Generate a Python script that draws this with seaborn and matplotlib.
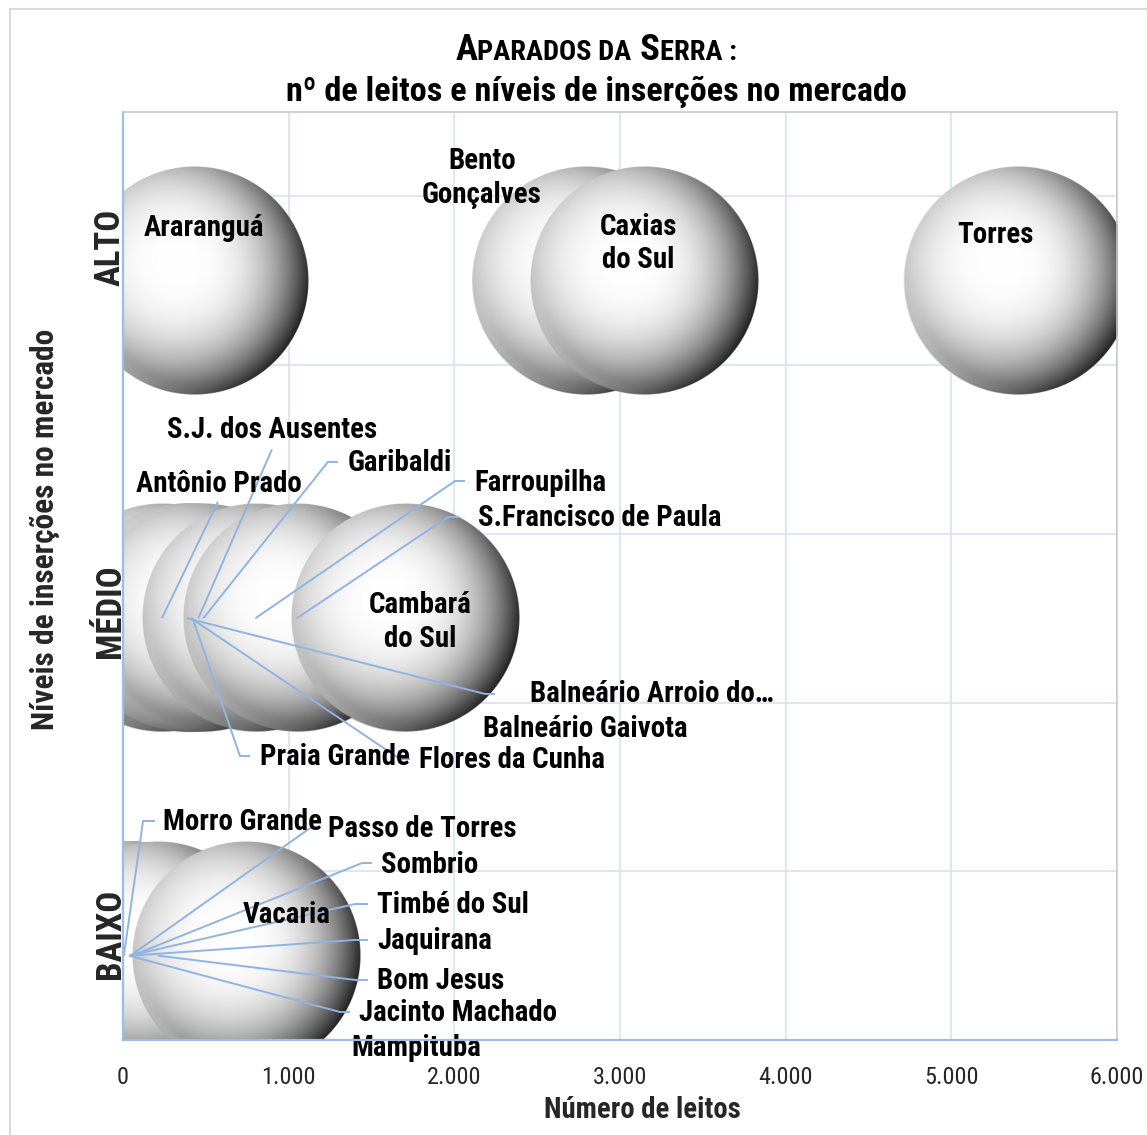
import numpy as np
import pandas as pd
import matplotlib
matplotlib.use("Agg")
import matplotlib.pyplot as plt
import seaborn as sns
from matplotlib import font_manager as fm
from matplotlib.offsetbox import TextArea, HPacker, DrawingArea, AnnotationBbox
from matplotlib.patches import Rectangle

# ---------------------------------------------------------------- data
niveis = ["BAIXO", "MÉDIO", "ALTO"]

alto_cidades = ["Araranguá", "Bento Gonçalves", "Caxias do Sul", "Torres"]
alto_leitos = [430, 2795, 3145, 5400]

medio_cidades = ["Antônio Prado", "S.J. dos Ausentes", "Garibaldi", "Farroupilha",
                 "S.Francisco de Paula", "Cambará do Sul", "Balneário Arroio do Silva",
                 "Balneário Gaivota", "Praia Grande", "Flores da Cunha"]
medio_leitos = [235, 455, 485, 800, 1050, 1700, 385, 380, 420, 410]

baixo_cidades = ["Morro Grande", "Passo de Torres", "Sombrio", "Vacaria", "Timbé do Sul",
                 "Jaquirana", "Bom Jesus", "Jacinto Machado", "Mampituba"]
baixo_leitos = [5, 45, 55, 745, 40, 50, 210, 35, 30]

x_ticks = [0, 1000, 2000, 3000, 4000, 5000, 6000]
x_tick_labels = ["0", "1.000", "2.000", "3.000", "4.000", "5.000", "6.000"]

# vertical slot of each market level on the y scale
nivel_pos = {"BAIXO": 0.5, "MÉDIO": 2.5, "ALTO": 4.5}

df = pd.concat([
    pd.DataFrame({"cidade": alto_cidades, "leitos": alto_leitos, "nivel": "ALTO"}),
    pd.DataFrame({"cidade": medio_cidades, "leitos": medio_leitos, "nivel": "MÉDIO"}),
    pd.DataFrame({"cidade": baixo_cidades, "leitos": baixo_leitos, "nivel": "BAIXO"}),
], ignore_index=True)
df["y"] = df["nivel"].map(nivel_pos)

# ---------------------------------------------------------------- style
sns.set_style("white")


def pick_narrow_font():
    entries = fm.fontManager.ttflist
    names = {f.name for f in entries}
    for nm in ["Liberation Sans Narrow", "Arial Narrow", "Roboto Condensed",
               "Noto Sans Condensed", "Open Sans Condensed", "Noto Sans SemiCondensed",
               "Open Sans SemiCondensed"]:
        if nm in names:
            return nm, "normal"
    for fam in ["Roboto", "Noto Sans", "Open Sans", "Liberation Sans", "DejaVu Sans"]:
        for f in entries:
            if f.name == fam and f.stretch in ("condensed", "semi-condensed", "extra-condensed"):
                return fam, f.stretch
    if "DejaVu Sans Condensed" in names:
        return "DejaVu Sans Condensed", "normal"
    return "Liberation Sans", "normal"


NARROW, STRETCH = pick_narrow_font()
plt.rcParams["font.family"] = [NARROW, "DejaVu Sans"]
plt.rcParams["font.stretch"] = STRETCH

GRID = "#d3e0f2"
AXIS_BLUE = "#9dbde8"
LEADER = "#8fb4e3"

W, H, DPI = 1147, 1135, 100
XMAX, YMAX = 6000, 5.5
BUBBLE_S = 26950          # marker area in pt^2
LABEL_SIZE = 20.8

fig = plt.figure(figsize=(W / DPI, H / DPI), dpi=DPI)
ax = fig.add_axes([123 / W, 1 - 1040 / H, 994 / W, 928 / H])
ax.set_xlim(0, XMAX)
ax.set_ylim(0, YMAX)
ax.set_autoscale_on(False)

# base bubbles
sns.scatterplot(data=df, x="leitos", y="y", s=BUBBLE_S, color="#e2e2e2",
                edgecolor="none", legend=False, ax=ax, zorder=1)


# shaded sphere texture laid over every bubble
def sphere_texture(n=400):
    u = np.linspace(-1, 1, n)
    X, Y = np.meshgrid(u, -u)
    r = np.hypot(X, Y)
    fx, fy = -0.12, 0.16
    dx, dy = X - fx, Y - fy
    dist = np.hypot(dx, dy) + 1e-9
    ux, uy = dx / dist, dy / dist
    b = fx * ux + fy * uy
    L = -b + np.sqrt(b * b - (fx * fx + fy * fy) + 1)
    s = np.clip(dist / L, 0, 1)
    theta = np.arctan2(dy, dx)
    w = 0.22 + 0.78 * ((1 + np.cos(theta - np.deg2rad(-32))) / 2) ** 1.3
    val = 1 - 0.88 * (s ** 2.8) * w
    rim = np.exp(-((1 - r) / 0.07) ** 2) * np.clip(-Y, 0, None) * np.clip(0.3 - X, 0, 1)
    val = np.clip(val + 0.18 * rim, 0, 1)
    alpha = np.clip((1 - r) * n / 2, 0, 1)
    return np.dstack([val, val, val, alpha])


tex = sphere_texture()
r_px = np.sqrt(BUBBLE_S) / 2 * DPI / 72
rx = r_px * XMAX / 994
ry = r_px * YMAX / 928

z = 2.0
for nivel in niveis:
    sub = df[df["nivel"] == nivel].sort_values("leitos")
    for _, row in sub.iterrows():
        ax.imshow(tex, extent=(row.leitos - rx, row.leitos + rx, row.y - ry, row.y + ry),
                  aspect="auto", interpolation="antialiased", zorder=z)
        z += 0.01

ax.set_xlim(0, XMAX)
ax.set_ylim(0, YMAX)

# ---------------------------------------------------------------- labels
# (text x, text y, ha, leader knee points from the label towards its bubble)
rotulos = {
    "Araranguá": (489, 4.81, "center", None),
    "Bento Gonçalves": (2167, 5.11, "center", None),
    "Caxias do Sul": (3109, 4.72, "center", None),
    "Torres": (5264, 4.77, "center", None),
    "Antônio Prado": (78, 3.295, "left", [(573, 3.19)]),
    "S.J. dos Ausentes": (266, 3.615, "left", [(899, 3.50)]),
    "Garibaldi": (1358, 3.42, "left", [(1298, 3.426), (1237, 3.426)]),
    "Farroupilha": (2119, 3.30, "left", [(2064, 3.313), (2004, 3.313)]),
    "S.Francisco de Paula": (2143, 3.094, "left", [(2028, 3.10), (1962, 3.10)]),
    "Cambará do Sul": (1793, 2.477, "center", None),
    "Balneário Arroio do Silva": (2457, 2.051, "left", [(2245, 2.051), (2185, 2.051)]),
    "Balneário Gaivota": (2173, 1.843, "left", None),
    "Praia Grande": (827, 1.677, "left", [(767, 1.683), (706, 1.683)]),
    "Flores da Cunha": (1787, 1.659, "left", [(1732, 1.665), (1672, 1.665)]),
    "Morro Grande": (241, 1.292, "left", [(193, 1.298), (121, 1.298)]),
    "Passo de Torres": (1237, 1.251, "left", [(1189, 1.256), (1129, 1.256)]),
    "Sombrio": (1557, 1.037, "left", [(1503, 1.049), (1443, 1.049)]),
    "Vacaria": (990, 0.741, "center", None),
    "Timbé do Sul": (1533, 0.80, "left", [(1479, 0.806), (1400, 0.806)]),
    "Jaquirana": (1533, 0.587, "left", [(1479, 0.593), (1400, 0.593)]),
    "Bom Jesus": (1533, 0.35, "left", [(1479, 0.356), (1400, 0.356)]),
    "Jacinto Machado": (1425, 0.16, "left", [(1370, 0.166), (1310, 0.166)]),
    "Mampituba": (1376, -0.047, "left", None),
}
texto_rotulo = {
    "Bento Gonçalves": "Bento\nGonçalves",
    "Caxias do Sul": "Caxias\ndo Sul",
    "Cambará do Sul": "Cambará\ndo Sul",
    "Balneário Arroio do Silva": "Balneário Arroio do…",
}

for _, row in df.iterrows():
    lx, ly, ha, knees = rotulos[row.cidade]
    if knees:
        xs = [row.leitos] + [k[0] for k in knees[::-1]]
        ys = [row.y] + [k[1] for k in knees[::-1]]
        ax.plot(xs, ys, color=LEADER, lw=1.4, zorder=10, solid_capstyle="butt")
    ax.text(lx, ly, texto_rotulo.get(row.cidade, row.cidade), ha=ha, va="center",
            fontsize=LABEL_SIZE, fontweight="bold", color="black", zorder=11,
            linespacing=1.26, clip_on=False)

# ---------------------------------------------------------------- axes
ax.set_xticks(x_ticks)
ax.set_xticklabels(x_tick_labels, fontsize=17.5)
ax.set_yticks([1, 2, 3, 4, 5])
ax.set_yticklabels([])
ax.tick_params(axis="both", length=0)
ax.tick_params(axis="x", pad=19)
ax.grid(True, color=GRID, lw=1.1, zorder=0)
ax.set_axisbelow(True)
ax.set_xlabel("")
ax.set_ylabel("")
for side in ("left", "bottom"):
    ax.spines[side].set_color(AXIS_BLUE)
    ax.spines[side].set_linewidth(1.6)
for side in ("top", "right"):
    ax.spines[side].set_color("#c9c9c9")
    ax.spines[side].set_linewidth(1.2)
for sp in ax.spines.values():
    sp.set_zorder(12)

# level names beside the y axis
nivel_texto_y = {"ALTO": 4.70, "MÉDIO": 2.54, "BAIXO": 0.63}
for nivel in niveis:
    ax.text(-0.013, nivel_texto_y[nivel], nivel, transform=ax.get_yaxis_transform(),
            rotation=90, ha="center", va="center", fontsize=25, fontweight="bold",
            clip_on=False)

fig.text(45 / W, 1 - 529 / H, "Níveis de inserções no mercado", rotation=90,
         ha="center", va="center", fontsize=22.6, fontweight="bold")
fig.text(642 / W, 1 - 1110 / H, "Número de leitos", ha="center", va="center",
         fontsize=20.7, fontweight="bold")

# title: small-caps first line, regular second line
big = dict(fontsize=26.5, fontweight="bold", color="black")
small = dict(fontsize=20.5, fontweight="bold", color="black")
linha1 = HPacker(children=[TextArea("A", textprops=big), TextArea("PARADOS DA", textprops=small),
                           DrawingArea(6, 1), TextArea("S", textprops=big),
                           TextArea("ERRA :", textprops=small)],
                 align="baseline", pad=0, sep=0)
fig.add_artist(AnnotationBbox(linha1, (596 / W, 1 - 50 / H), xycoords="figure fraction",
                              frameon=False, box_alignment=(0.5, 0.5)))
fig.text(596 / W, 1 - 92 / H, "nº de leitos e níveis de inserções no mercado",
         ha="center", va="center", fontsize=24.6, fontweight="bold", color="black")

# chart frame
fig.add_artist(Rectangle((9.5 / W, -0.1), 1.2, 1.1 - 9.5 / H, transform=fig.transFigure,
                         fill=False, edgecolor="#d9d9d9", lw=1.5))

fig.savefig("out.png", dpi=DPI)
